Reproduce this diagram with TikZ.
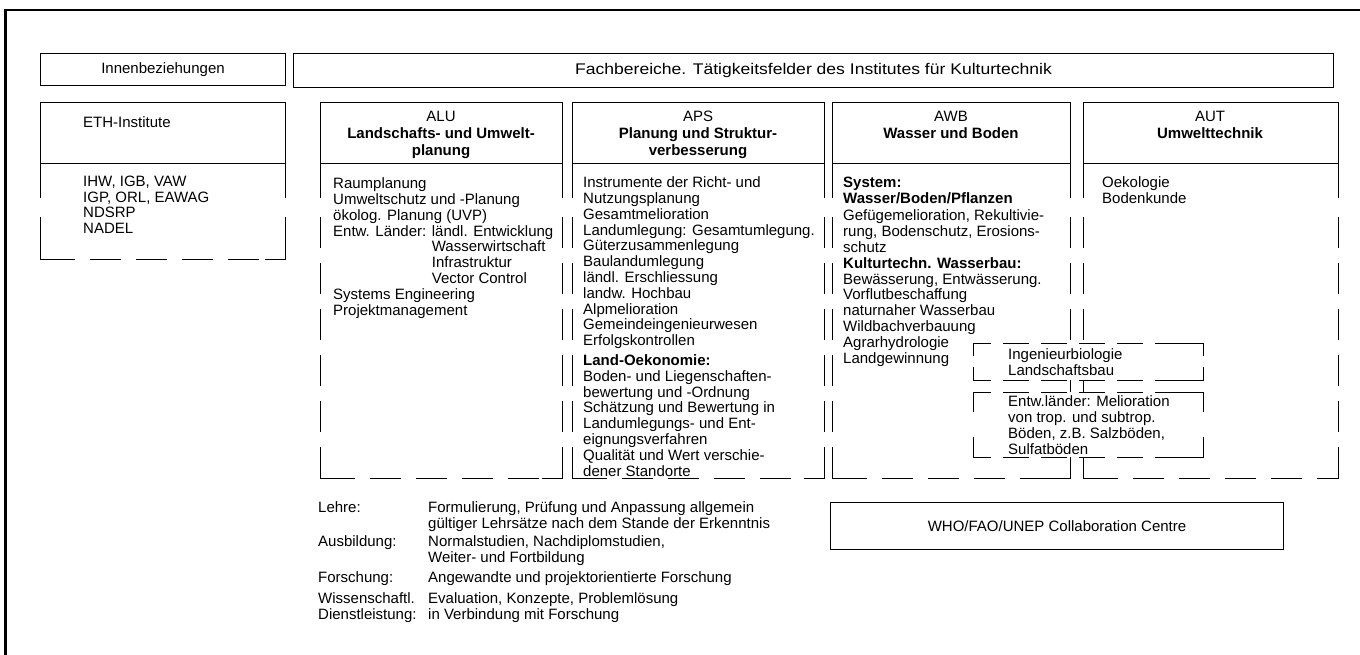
\documentclass[tikz,border=0pt]{standalone}
\usepackage{fontspec}
\setmainfont{Liberation Sans}

\newcommand\body{\fontsize{15}{15.8}\selectfont}
\newcommand\kopf{\fontsize{15}{17}\selectfont\bfseries}

% Spalte: links, rechts, unten
\newcommand\spalte[3]{%
  \draw[linie] (#1,198) -- (#1,103) -- (#2,103) -- (#2,198);
  \draw[linie] (#1,164) -- (#2,164);
  \draw[linie] (#1,#3-28) -- (#1,#3) -- (#1+35,#3);
  \draw[linie] (#2-20,#3) -- (#2,#3) -- (#2,#3-28);
  \draw[strich] (#1,217) -- (#1,#3-28);
  \draw[strich] (#2,217) -- (#2,#3-28);
  \draw[strich, dash phase=31pt] (#1+35,#3) -- (#2-20,#3);
}
% gestrichelter Kasten: links, oben, rechts, unten, Eckenlaenge
\newcommand\dkasten[5]{%
  \fill[white] (#1,#2) rectangle (#3,#4);
  \draw[linie] (#1,#2+#5) -- (#1,#2) -- (#1+18,#2);
  \draw[linie] (#3-36,#2) -- (#3,#2) -- (#3,#2+#5);
  \draw[linie] (#1,#4-#5) -- (#1,#4) -- (#1+18,#4);
  \draw[linie] (#3-36,#4) -- (#3,#4) -- (#3,#4-#5);
  \draw[kstrich] (#1+18,#2) -- (#3-36,#2);
  \draw[kstrich] (#1+18,#4) -- (#3-36,#4);
}

\begin{document}
\begin{tikzpicture}[x=1pt, y=-1pt,
  rahmen/.style={line width=2.6pt},
  linie/.style={line width=1pt},
  strich/.style={line width=1pt, dash pattern=on 31pt off 15pt},
  kstrich/.style={line width=1pt, dash pattern=on 26pt off 12pt, dash phase=26pt},
  kasten/.style={draw, line width=1pt, inner sep=0pt, font=\body, anchor=north west},
  txt/.style={inner sep=0pt, anchor=north west, align=left, font=\body},
  abk/.style={inner sep=0pt, font=\body},
  titel/.style={inner sep=0pt, font=\kopf, align=center}]

\useasboundingbox (0,0) rectangle (1360,655);

% Rahmen
\draw[rahmen] (5.5,655) -- (5.5,10) -- (1360,10);

% Kopfzeilen
\node[kasten, minimum width=245pt, minimum height=32pt] (innen) at (40,53) {Innenbeziehungen};
\node[kasten, minimum width=1040pt, minimum height=34pt] (fach) at (293,53)
  {\scalebox{1.17}[1.03]{Fachbereiche. Tätigkeitsfelder des Institutes für Kulturtechnik}};

% Spalten
\spalte{40}{285}{259}
\spalte{320}{562}{478}
\spalte{572}{824}{478}
\spalte{832}{1070}{478}
\spalte{1083}{1338}{478}

% ETH
\node[txt] (eth) at (83,116.6) {ETH-Institute};
\node[txt] (eth-l) at (83,175.6) {IHW, IGB, VAW\\IGP, ORL, EAWAG\\NDSRP\\NADEL};

% ALU
\node[abk] (alu) at (441,116) {ALU};
\node[titel] (alu-t) at (441,143) {Landschafts- und Umwelt-\\planung};
\node[txt] (alu-l) at (333,177.6) {Raumplanung\\
  Umweltschutz und -Planung\\
  ökolog. Planung (UVP)\\
  Entw. Länder: ländl. Entwicklung\\
  \phantom{Entw. Länder: }Wasserwirtschaft\\
  \phantom{Entw. Länder: }Infrastruktur\\
  \phantom{Entw. Länder: }Vector Control\\
  Systems Engineering\\
  Projektmanagement};

% APS
\node[abk] (aps) at (698,116) {APS};
\node[titel] (aps-t) at (698,143) {Planung und Struktur-\\verbesserung};
\node[txt] (aps-l) at (583,176.6) {Instrumente der Richt- und\\
  Nutzungsplanung\\
  Gesamtmelioration\\
  Landumlegung: Gesamtumlegung.\\
  Güterzusammenlegung\\
  Baulandumlegung\\
  ländl. Erschliessung\\
  landw. Hochbau\\
  Alpmelioration\\
  Gemeindeingenieurwesen\\
  Erfolgskontrollen\\[4pt]
  \textbf{Land-Oekonomie:}\\
  Boden- und Liegenschaften-\\
  bewertung und -Ordnung\\
  Schätzung und Bewertung in\\
  Landumlegungs- und Ent-\\
  eignungsverfahren\\
  Qualität und Wert verschie-\\
  dener Standorte};

% AWB
\node[abk] (awb) at (951,116) {AWB};
\node[titel] (awb-t) at (951,133) {Wasser und Boden};
\node[txt] (awb-l) at (843,176.6) {\textbf{System:}\\
  \textbf{Wasser/Boden/Pflanzen}\\[2pt]
  Gefügemelioration, Rekultivie-\\
  rung, Bodenschutz, Erosions-\\
  schutz\\
  \textbf{Kulturtechn. Wasserbau:}\\
  Bewässerung, Entwässerung.\\
  Vorflutbeschaffung\\
  naturnaher Wasserbau\\
  Wildbachverbauung\\
  Agrarhydrologie\\
  Landgewinnung};

% AUT
\node[abk] (aut) at (1210,116) {AUT};
\node[titel] (aut-t) at (1210,133) {Umwelttechnik};
\node[txt] (aut-l) at (1102,176.6) {Oekologie\\Bodenkunde};

% Kaesten ueber AWB/AUT
\dkasten{973}{343}{1203}{380}{13}
\dkasten{973}{392}{1203}{457}{20}
\draw[linie] (1070,380) -- (1070,392);
\draw[linie] (1083,380) -- (1083,392);
\node[txt] (ingbio) at (1008,348.6) {Ingenieurbiologie\\Landschaftsbau};
\node[txt] (entw) at (1008,395.6) {Entw.länder: Melioration\\
  von trop. und subtrop.\\
  Böden, z.B. Salzböden,\\
  Sulfatböden};

% Legende
\node[txt] (lehre) at (318,501.6) {Lehre:};
\node[txt] (lehre-t) at (428,501.6) {Formulierung, Prüfung und Anpassung allgemein\\
  gültiger Lehrsätze nach dem Stande der Erkenntnis};
\node[txt] (ausb) at (318,535.6) {Ausbildung:};
\node[txt] (ausb-t) at (428,535.6) {Normalstudien, Nachdiplomstudien,\\Weiter- und Fortbildung};
\node[txt] (forsch) at (318,571.6) {Forschung:};
\node[txt] (forsch-t) at (428,571.6) {Angewandte und projektorientierte Forschung};
\node[txt] (dienst) at (318,592.6) {Wissenschaftl.\\Dienstleistung:};
\node[txt] (dienst-t) at (428,592.6) {Evaluation, Konzepte, Problemlösung\\in Verbindung mit Forschung};

% WHO
\node[kasten, minimum width=453pt, minimum height=47pt] (who) at (830,502)
  {WHO/FAO/UNEP Collaboration Centre};

\end{tikzpicture}
\end{document}
